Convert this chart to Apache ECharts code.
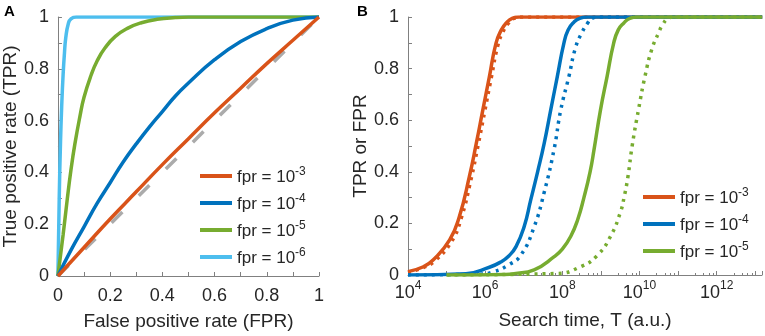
<!DOCTYPE html>
<html>
<head>
<meta charset="utf-8">
<script src="https://cdn.jsdelivr.net/npm/echarts@6/dist/echarts.min.js"></script>
<style>
  html, body { margin: 0; padding: 0; background: #fff; }
  #chart { width: 765px; height: 336px; }
</style>
</head>
<body>
<div id="chart"></div>
<script>
// panel A: ROC curves, [FPR, TPR]
const rocNames = ['fpr = 10^-3', 'fpr = 10^-4', 'fpr = 10^-5', 'fpr = 10^-6'];
const rocColors = ['#D95319', '#0072BD', '#77AC30', '#4DBEEE'];
const roc3 = [[0, 0], [0.1, 0.11], [0.2, 0.22], [0.3, 0.325], [0.4, 0.43], [0.5, 0.53], [0.6, 0.63], [0.7, 0.725], [0.8, 0.82], [0.9, 0.91], [1, 1]];
const roc4 = [[0, 0], [0.05, 0.1], [0.1, 0.19], [0.15, 0.28], [0.2, 0.36], [0.25, 0.44], [0.3, 0.51], [0.35, 0.575], [0.4, 0.635], [0.45, 0.695], [0.5, 0.745], [0.6, 0.835], [0.7, 0.905], [0.8, 0.955], [0.9, 0.988], [1, 1]];
const roc5 = [[0, 0], [0.02, 0.16], [0.035, 0.29], [0.05, 0.41], [0.065, 0.51], [0.085, 0.62], [0.1, 0.69], [0.127, 0.775], [0.15, 0.83], [0.18, 0.88], [0.22, 0.925], [0.27, 0.958], [0.32, 0.978], [0.38, 0.991], [0.45, 0.998], [0.5, 1], [1, 1]];
const roc6 = [[0, 0], [0.005, 0.3], [0.01, 0.52], [0.015, 0.67], [0.02, 0.78], [0.025, 0.86], [0.03, 0.92], [0.04, 0.975], [0.05, 0.993], [0.07, 1], [1, 1]];
const chance = [[0, 0], [1, 1]];

// panel B: rate vs search time, [log10 T, rate]; solid = TPR, dotted = FPR
const tpr3 = [[4, 0.013], [4.4, 0.032], [4.65, 0.058], [5.08, 0.136], [5.33, 0.226], [5.59, 0.381], [5.77, 0.51], [5.94, 0.64], [6.11, 0.769], [6.28, 0.898], [6.42, 0.95], [6.54, 0.976], [6.7, 0.995], [6.88, 1], [13.18, 1]];
const fpr3 = [[4, 0.01], [4.4, 0.029], [4.7, 0.055], [5.13, 0.13], [5.38, 0.22], [5.64, 0.375], [5.82, 0.505], [5.99, 0.635], [6.16, 0.765], [6.33, 0.89], [6.47, 0.945], [6.6, 0.975], [6.75, 0.995], [6.95, 1], [13.18, 1]];
const tpr4 = [[4, 0], [5.5, 0.005], [6.11, 0.03], [6.4, 0.05], [6.62, 0.075], [6.8, 0.11], [7.01, 0.187], [7.18, 0.29], [7.36, 0.4], [7.53, 0.51], [7.7, 0.64], [7.87, 0.769], [8.04, 0.898], [8.15, 0.95], [8.3, 0.98], [8.45, 0.995], [8.65, 1], [13.18, 1]];
const fpr4 = [[4, 0], [5.8, 0.003], [6.2, 0.012], [6.62, 0.04], [6.93, 0.078], [7.27, 0.187], [7.53, 0.32], [7.79, 0.49], [7.96, 0.64], [8.17, 0.769], [8.35, 0.885], [8.52, 0.943], [8.65, 0.975], [8.77, 0.995], [8.95, 1], [13.18, 1]];
const tpr5 = [[5, 0], [6.5, 0.002], [6.75, 0.005], [7.27, 0.02], [7.79, 0.071], [8, 0.1], [8.22, 0.15], [8.4, 0.215], [8.56, 0.3], [8.72, 0.4], [8.82, 0.484], [8.99, 0.64], [9.16, 0.769], [9.33, 0.898], [9.45, 0.95], [9.59, 0.976], [9.75, 0.995], [9.94, 1], [13.18, 1]];
const fpr5 = [[5, 0], [7.87, 0.006], [8.47, 0.032], [8.9, 0.075], [9.25, 0.15], [9.51, 0.245], [9.6, 0.3], [9.7, 0.38], [9.81, 0.5], [9.98, 0.645], [10.15, 0.775], [10.32, 0.875], [10.5, 0.94], [10.6, 0.97], [10.75, 0.995], [10.9, 1], [13.18, 1]];

const font = '"Liberation Sans", Arial, sans-serif';
const txt = '#262626';
const axisGray = '#808080';

let chart = echarts.init(document.getElementById('chart'));

let toT = function (arr) {
  return arr.map(p => [Math.pow(10, p[0]), p[1]]);
};

let supName = function (name) {
  const parts = name.split('^');
  return '{t|' + parts[0] + '}{s|' + parts[1] + '}';
};

let tenthLabel = function (v) {
  return (Math.round(v * 10) % 2) ? '' : String(+v.toFixed(1));
};

let rocLine = function (name, data, color, type) {
  return {
    name: name,
    type: 'line',
    xAxisIndex: 0,
    yAxisIndex: 0,
    data: data,
    showSymbol: false,
    smooth: 0.5,
    color: color,
    lineStyle: { color: color, width: 3.5, type: type || 'solid' },
    silent: true
  };
};

let timeLine = function (name, data, color, dotted) {
  return {
    name: name,
    type: 'line',
    xAxisIndex: 1,
    yAxisIndex: 1,
    data: toT(data),
    showSymbol: false,
    smooth: 0.5,
    color: color,
    lineStyle: { color: color, width: 3.5, type: dotted ? [3, 5] : 'solid', cap: 'butt' },
    silent: true
  };
};

let valueY = function (gridIndex, name, nameGap) {
  return {
    gridIndex: gridIndex,
    type: 'value',
    min: 0,
    max: 1,
    interval: 0.1,
    name: name,
    nameLocation: 'middle',
    nameGap: nameGap,
    nameTextStyle: { fontFamily: font, fontSize: 19, color: txt },
    axisLine: { show: true, lineStyle: { color: axisGray, width: 1 } },
    axisTick: { show: true, inside: true, length: 4, lineStyle: { color: axisGray } },
    axisLabel: { formatter: tenthLabel, fontFamily: font, fontSize: 18, color: txt, margin: 9 },
    splitLine: { show: false }
  };
};

const legendBase = {
  orient: 'vertical',
  icon: 'rect',
  itemWidth: 32,
  itemHeight: 4,
  itemGap: 7,
  padding: 0,
  selectedMode: false,
  formatter: supName,
  textStyle: {
    fontFamily: font, fontSize: 17, color: txt, lineHeight: 20,
    rich: {
      t: { fontFamily: font, fontSize: 17, color: txt, lineHeight: 20, verticalAlign: 'bottom' },
      s: { fontFamily: font, fontSize: 12, color: txt, lineHeight: 12, verticalAlign: 'top' }
    }
  }
};

const option = {
  animation: false,
  backgroundColor: '#fff',
  title: [
    { text: 'A', left: 4, top: 4, padding: 0, textStyle: { fontFamily: font, fontSize: 15, fontWeight: 'bold', color: '#000' } },
    { text: 'B', left: 357, top: 4, padding: 0, textStyle: { fontFamily: font, fontSize: 15, fontWeight: 'bold', color: '#000' } }
  ],
  legend: [
    Object.assign({}, legendBase, { left: 200, top: 166, data: rocNames }),
    Object.assign({}, legendBase, { left: 643, top: 187, data: rocNames.slice(0, 3) })
  ],
  grid: [
    { left: 56, top: 17, width: 263, height: 262, containLabel: false },
    { left: 408, top: 17, width: 356, height: 258, containLabel: false }
  ],
  xAxis: [
    {
      gridIndex: 0,
      type: 'value',
      min: 0,
      max: 1,
      interval: 0.1,
      name: 'False positive rate (FPR)',
      nameLocation: 'middle',
      nameGap: 36,
      nameTextStyle: { fontFamily: font, fontSize: 19, color: txt },
      axisLine: { show: true, lineStyle: { color: axisGray, width: 1 } },
      axisTick: { show: true, inside: true, length: 4, lineStyle: { color: axisGray } },
      axisLabel: { formatter: tenthLabel, fontFamily: font, fontSize: 18, color: txt, margin: 11 },
      splitLine: { show: false }
    },
    {
      gridIndex: 1,
      type: 'log',
      logBase: 10,
      min: 1e4,
      max: 1.5e13,
      name: 'Search time, T (a.u.)',
      nameLocation: 'middle',
      nameGap: 36,
      nameTextStyle: { fontFamily: font, fontSize: 19, color: txt },
      axisLine: { show: true, lineStyle: { color: axisGray, width: 1 } },
      axisTick: { show: true, inside: true, length: 4, lineStyle: { color: axisGray } },
      minorTick: { show: true, splitNumber: 5, length: 2, lineStyle: { color: axisGray } },
      axisLabel: {
        fontFamily: font, fontSize: 18, color: txt, margin: 5,
        formatter: function (v) {
          const e = Math.round(Math.log10(v));
          return (e % 2) ? '' : '{b|10}{s|' + e + '}';
        },
        rich: {
          b: { fontFamily: font, fontSize: 18, color: txt, lineHeight: 22, verticalAlign: 'bottom' },
          s: { fontFamily: font, fontSize: 12, color: txt, lineHeight: 12, verticalAlign: 'top' }
        }
      },
      splitLine: { show: false }
    }
  ],
  yAxis: [
    valueY(0, 'True positive rate (TPR)', 34),
    valueY(1, 'TPR or FPR', 31)
  ],
  series: [
    rocLine('chance', chance, '#ABABAB', [15, 23]),
    rocLine(rocNames[3], roc6, rocColors[3]),
    rocLine(rocNames[2], roc5, rocColors[2]),
    rocLine(rocNames[1], roc4, rocColors[1]),
    rocLine(rocNames[0], roc3, rocColors[0]),
    timeLine('fpr3 dotted', fpr3, rocColors[0], true),
    timeLine(rocNames[0], tpr3, rocColors[0], false),
    timeLine('fpr4 dotted', fpr4, rocColors[1], true),
    timeLine(rocNames[1], tpr4, rocColors[1], false),
    timeLine('fpr5 dotted', fpr5, rocColors[2], true),
    timeLine(rocNames[2], tpr5, rocColors[2], false)
  ]
};

chart.setOption(option);
</script>
</body>
</html>
